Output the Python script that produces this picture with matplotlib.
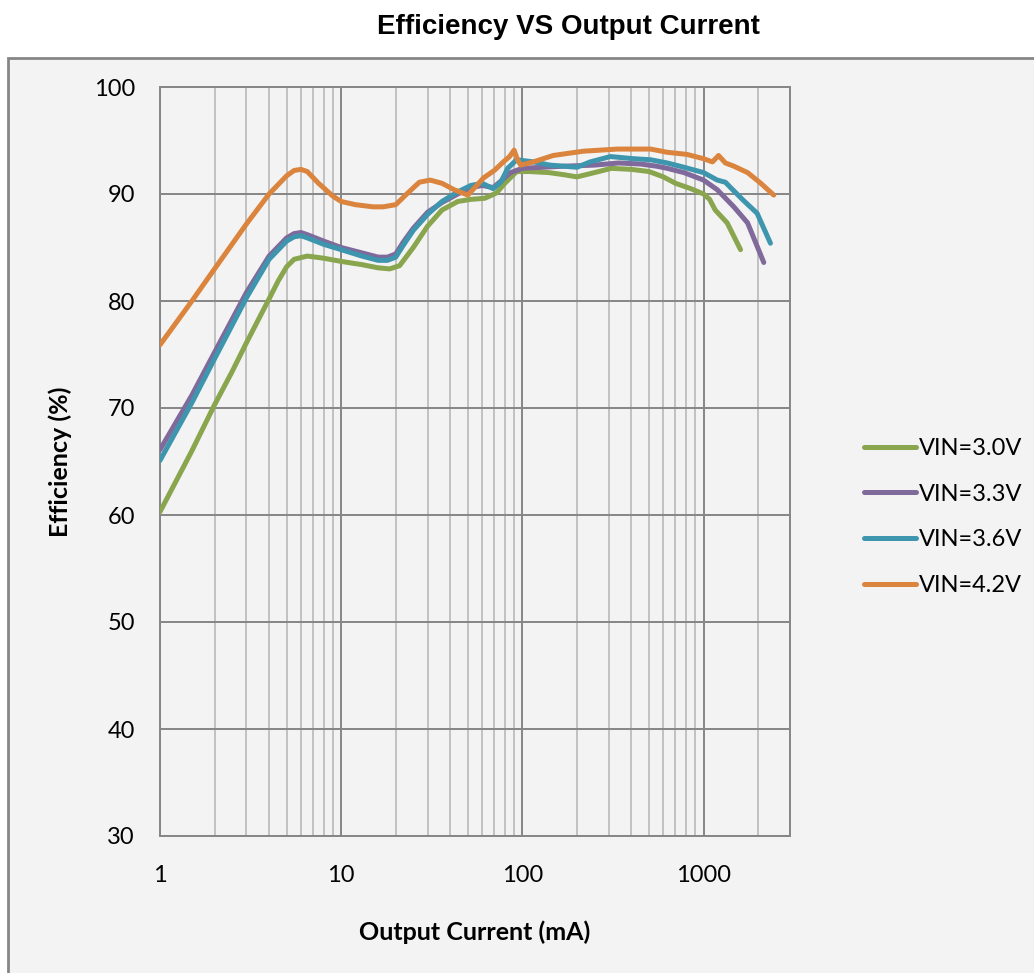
import matplotlib
matplotlib.use("Agg")
import matplotlib.pyplot as plt
from matplotlib.patches import Rectangle
from matplotlib.ticker import FixedLocator, NullFormatter

# data (mA, %)
i_30 = [1, 1.5, 2, 2.5, 3, 4, 4.5, 5, 5.5, 6.5, 8, 10, 13, 16, 18.5, 21, 25, 30, 36, 44, 52,
        62, 72, 80, 93, 110, 140, 170, 200, 250, 310, 400, 500, 600, 700, 850, 1000,
        1080, 1160, 1350, 1600]
e_30 = [60.3, 66.0, 70.3, 73.4, 76.1, 80.2, 81.9, 83.2, 83.9, 84.2, 84.0, 83.7, 83.4, 83.1,
        83.0, 83.3, 85.0, 87.0, 88.5, 89.3, 89.5, 89.6, 90.1, 91.0, 92.1, 92.1, 92.0, 91.8,
        91.6, 92.0, 92.4, 92.3, 92.1, 91.6, 91.0, 90.5, 90.0, 89.5, 88.5, 87.3, 84.8]

i_33 = [1, 1.5, 2, 3, 4, 5, 5.5, 6, 6.5, 8, 10, 13, 16, 18, 20, 22, 25, 30, 36, 44, 52,
        60, 69, 76, 86, 100, 130, 170, 250, 340, 450, 550, 630, 780, 1000, 1190, 1470,
        1750, 2150]
e_33 = [66.1, 71.2, 75.2, 80.8, 84.2, 85.9, 86.3, 86.4, 86.2, 85.6, 85.0, 84.5, 84.1, 84.1,
        84.4, 85.5, 86.8, 88.3, 89.2, 90.0, 90.6, 90.8, 90.6, 91.2, 92.0, 92.4, 92.5, 92.6,
        92.7, 92.9, 92.8, 92.6, 92.4, 92.0, 91.3, 90.4, 88.8, 87.3, 83.6]

i_36 = [1, 1.5, 2, 3, 4, 5, 5.5, 6, 6.5, 8, 10, 13, 16, 18, 20, 22, 25, 30, 36, 44, 52,
        60, 69, 76, 83, 93, 115, 142, 200, 237, 306, 410, 510, 630, 780, 1000, 1190,
        1320, 1410, 1660, 1975, 2340]
e_36 = [65.1, 70.5, 74.6, 80.3, 83.9, 85.6, 86.0, 86.1, 85.9, 85.3, 84.8, 84.2, 83.8, 83.8,
        84.1, 85.2, 86.6, 88.1, 89.3, 90.2, 90.8, 91.0, 90.5, 91.1, 92.4, 93.2, 93.0, 92.7,
        92.5, 93.0, 93.5, 93.3, 93.2, 92.9, 92.5, 92.0, 91.3, 91.1, 90.6, 89.4, 88.2, 85.4]

i_42 = [1, 1.5, 2, 3, 4, 5, 5.5, 6, 6.5, 7.5, 9, 10, 12, 15, 17, 20, 23, 27, 31, 36, 42,
        50, 56, 61, 70, 78.5, 85, 90, 94, 98, 115, 148, 217, 335, 510, 630, 810, 1000,
        1120, 1210, 1320, 1470, 1750, 2070, 2440]
e_42 = [75.9, 80.0, 83.0, 87.2, 90.0, 91.7, 92.2, 92.3, 92.1, 91.0, 89.8, 89.3, 89.0, 88.8,
        88.8, 89.0, 90.0, 91.1, 91.3, 91.0, 90.4, 89.9, 90.8, 91.5, 92.2, 93.0, 93.5, 94.1,
        93.2, 92.7, 93.0, 93.6, 94.0, 94.2, 94.2, 93.9, 93.7, 93.3, 93.0, 93.6, 92.9, 92.6,
        92.0, 91.0, 89.9]

labels = ["VIN=3.0V", "VIN=3.3V", "VIN=3.6V", "VIN=4.2V"]
colors = ["#89A54E", "#80699B", "#3D96AE", "#DB843D"]
y_ticks = [30, 40, 50, 60, 70, 80, 90, 100]
x_ticks = [1, 10, 100, 1000]

W, H = 1034, 973
fig = plt.figure(figsize=(W / 100, H / 100), dpi=100, facecolor="white")
bg = "#f3f3f3"
fig.patches.append(Rectangle((8 / W, -0.05), 1.2, 1 - 58 / H + 0.05,
                             transform=fig.transFigure, facecolor=bg,
                             edgecolor="#868686", lw=2.0, zorder=-10))

ax = fig.add_axes([160 / W, 1 - 836 / H, 630 / W, 749 / H])
ax.set_facecolor(bg)

series = [(i_30, e_30), (i_33, e_33), (i_36, e_36), (i_42, e_42)]
for (xs, ys), lab, c in zip(series, labels, colors):
    ax.plot(xs, ys, color=c, lw=3.6, label=lab, solid_capstyle="round",
            solid_joinstyle="round", zorder=3)

ax.set_xscale("log")
ax.set_xlim(1, 3000)
ax.set_ylim(30, 100)
ax.set_yticks(y_ticks)
ax.xaxis.set_major_locator(FixedLocator(x_ticks))
ax.set_xticklabels([str(v) for v in x_ticks])
minors = [m * 10 ** d for d in range(4) for m in range(2, 10) if m * 10 ** d < 3000]
ax.xaxis.set_minor_locator(FixedLocator(minors))
ax.xaxis.set_minor_formatter(NullFormatter())

ax.grid(True, which="major", color="#868686", lw=1.4, zorder=1)
ax.grid(True, which="minor", axis="x", color="#bdbdbd", lw=1.3, zorder=1)
ax.set_axisbelow(True)
for s in ax.spines.values():
    s.set_color("#868686")
    s.set_linewidth(1.4)
ax.tick_params(which="both", length=0)
ax.tick_params(axis="y", pad=18)
ax.tick_params(axis="x", pad=21)

font = "Lato"
for t in ax.get_xticklabels() + ax.get_yticklabels():
    t.set_fontfamily(font)
    t.set_fontsize(17)

ax.set_xlabel("Output Current (mA)", fontfamily=font, fontweight="bold", fontsize=18,
              va="center")
ax.xaxis.set_label_coords(0.5, -0.128)
ax.set_ylabel("Efficiency (%)", fontfamily=font, fontweight="bold", fontsize=18,
              va="center")
ax.yaxis.set_label_coords(-0.159, 0.5)

fig.text(568 / W, 1 - 27 / H, "Efficiency VS Output Current", ha="center", va="center",
         fontfamily="Liberation Sans", fontweight="bold", fontsize=20)

leg = ax.legend(loc="center left", bbox_to_anchor=(852 / W, 1 - 517 / H),
                bbox_transform=fig.transFigure, frameon=False, prop={"family": font, "size": 17},
                handlelength=2.2, handletextpad=0.12, labelspacing=1.05, borderpad=0)

fig.savefig("out.png", dpi=100, facecolor="white")
